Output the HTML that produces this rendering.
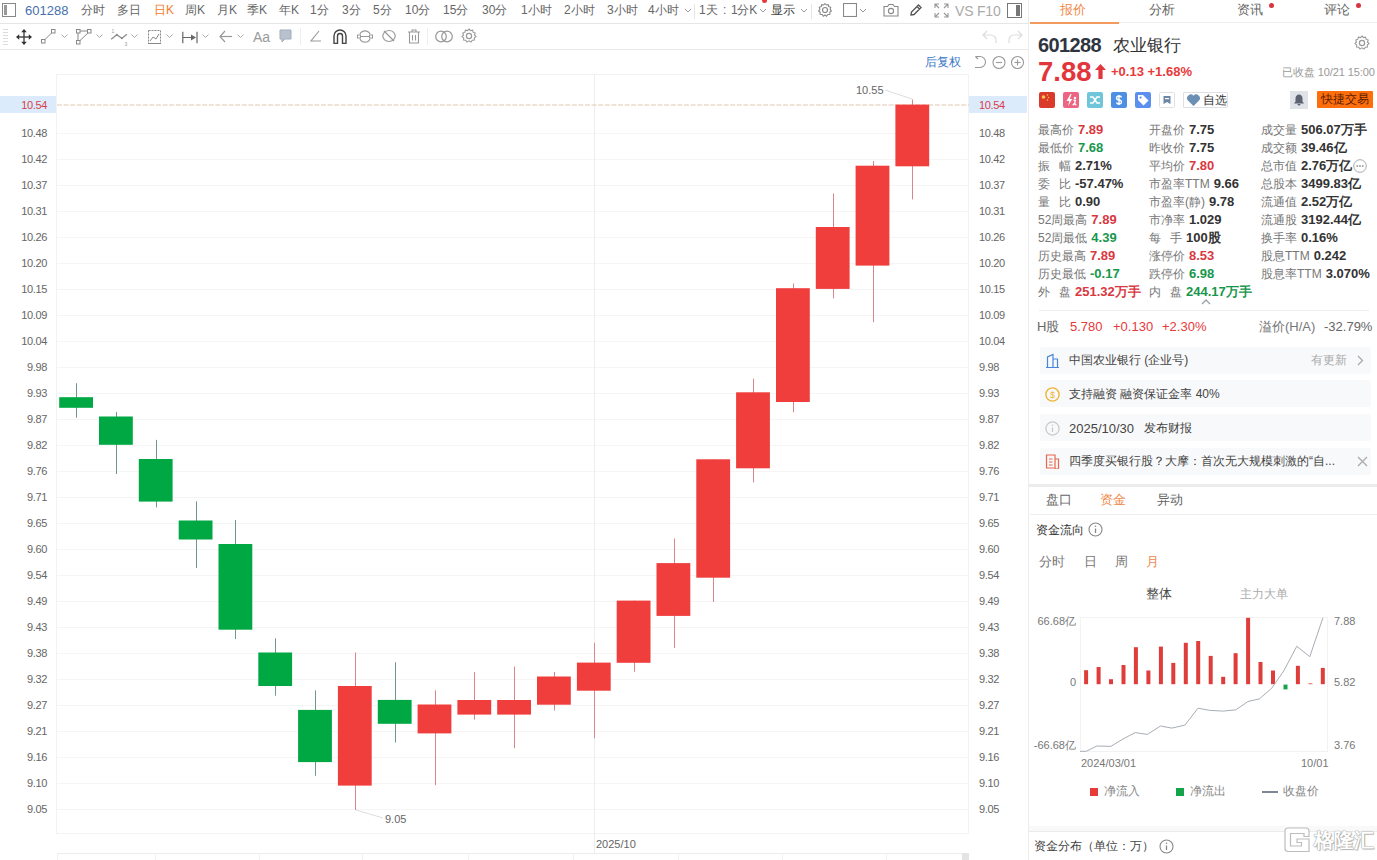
<!DOCTYPE html>
<html><head><meta charset="utf-8">
<style>
*{margin:0;padding:0;box-sizing:border-box}
html,body{width:1377px;height:860px;overflow:hidden;background:#fff;font-family:"Liberation Sans",sans-serif;color:#333}
.a{position:absolute;white-space:nowrap}
#left{position:absolute;left:0;top:0;width:1028px;height:860px}
#tb1{position:absolute;left:0;top:0;width:1028px;height:24px;border-bottom:1px solid #e6e6e6}
#tb2{position:absolute;left:0;top:24px;width:1028px;height:26px;border-bottom:1px solid #e9e9e9}
.t1{position:absolute;top:3px;font-size:12px;line-height:15px;color:#666}
.al{position:absolute;right:980px;width:50px;text-align:right;font-size:11px;line-height:14px;color:#666}
.al{left:0;width:47px;letter-spacing:-0.35px}
.ar{position:absolute;left:979px;font-size:11px;line-height:14px;color:#666;letter-spacing:-0.35px}
#rp{position:absolute;left:1028px;top:0;width:349px;height:860px;border-left:1px solid #ececec}
.tab{position:absolute;top:2px;font-size:13px;line-height:16px;color:#666}
.lb{position:absolute;font-size:12px;line-height:14px;color:#777}
.v{position:absolute;font-size:13px;line-height:14px;font-weight:bold;color:#333}
.r{color:#d9383f}.g{color:#17974c}
.box{position:absolute;left:1039px;width:331px;height:27px;background:#f8f9fa;border-radius:2px}
.bt{position:absolute;left:29px;top:6px;font-size:13px;line-height:15px;color:#444}
.d{color:#333}
</style></head><body>
<div id="left">
 <div id="tb1">
  <svg class="a" style="left:2px;top:3px" width="14" height="14" viewBox="0 0 14 14"><rect x="0.5" y="0.5" width="13" height="13" fill="none" stroke="#888"/><rect x="2" y="2" width="3" height="10" fill="#999"/></svg>
  <div class="t1" style="left:25px;color:#4670ad;font-size:13px">601288</div>
  <div class="t1" style="left:81px">分时</div>
  <div class="t1" style="left:117px">多日</div>
  <div class="t1" style="left:154px;color:#f57c2a">日K</div>
  <div class="t1" style="left:185px">周K</div>
  <div class="t1" style="left:217px">月K</div>
  <div class="t1" style="left:247px">季K</div>
  <div class="t1" style="left:279px">年K</div>
  <div class="t1" style="left:310px">1分</div>
  <div class="t1" style="left:342px">3分</div>
  <div class="t1" style="left:373px">5分</div>
  <div class="t1" style="left:405px">10分</div>
  <div class="t1" style="left:443px">15分</div>
  <div class="t1" style="left:482px">30分</div>
  <div class="t1" style="left:521px">1小时</div>
  <div class="t1" style="left:564px">2小时</div>
  <div class="t1" style="left:607px">3小时</div>
  <div class="t1" style="left:648px">4小时</div>
  <svg class="a" style="left:684px;top:8px" width="8" height="6"><polyline points="1,1 4,4 7,1" fill="none" stroke="#999" stroke-width="1"/></svg>
  <div class="a" style="left:694px;top:4px;width:1px;height:15px;background:#e5e5e5"></div>
  <div class="t1" style="left:699px;font-size:12px">1天</div><div class="t1" style="left:723px">:</div><div class="t1" style="left:731px;font-size:12px;letter-spacing:-0.2px">1分K</div>
  <svg class="a" style="left:759px;top:8px" width="8" height="6"><polyline points="1,1 4,4 7,1" fill="none" stroke="#999" stroke-width="1"/></svg>
  <div class="a" style="left:762px;top:-2px;width:5px;height:5px;border-radius:50%;background:#e8393b"></div>
  <div class="t1" style="left:771px;color:#444">显示</div>
  <svg class="a" style="left:800px;top:8px" width="8" height="6"><polyline points="1,1 4,4 7,1" fill="none" stroke="#999" stroke-width="1"/></svg>
  <div class="a" style="left:811px;top:4px;width:1px;height:15px;background:#e5e5e5"></div>
  <svg class="a" style="left:817px;top:2px" width="16" height="16" viewBox="0 0 16 16"><circle cx="8" cy="8" r="2.5" fill="none" stroke="#888" stroke-width="1.2"/><path d="M8 1.5 L9.3 3 L11.3 2.6 L11.8 4.6 L13.7 5.3 L13.1 7.3 L14.4 8.9 L12.8 10.2 L12.9 12.3 L10.8 12.5 L9.6 14.2 L8 13 L6.4 14.2 L5.2 12.5 L3.1 12.3 L3.2 10.2 L1.6 8.9 L2.9 7.3 L2.3 5.3 L4.2 4.6 L4.7 2.6 L6.7 3 Z" fill="none" stroke="#888" stroke-width="1.1"/></svg>
  <svg class="a" style="left:843px;top:3px" width="14" height="14"><rect x="0.5" y="0.5" width="13" height="13" fill="none" stroke="#888" stroke-width="1.1"/></svg>
  <svg class="a" style="left:859px;top:8px" width="8" height="6"><polyline points="1,1 4,4 7,1" fill="none" stroke="#999" stroke-width="1"/></svg>
  <svg class="a" style="left:883px;top:3px" width="16" height="14" viewBox="0 0 16 14"><path d="M1 3.5 H4.5 L6 1.5 H10 L11.5 3.5 H15 V13 H1 Z" fill="none" stroke="#888" stroke-width="1.1"/><circle cx="8" cy="8" r="2.6" fill="none" stroke="#888" stroke-width="1.1"/></svg>
  <svg class="a" style="left:909px;top:3px" width="14" height="14" viewBox="0 0 14 14"><path d="M2 12 L2.5 9 L9.5 2 L12 4.5 L5 11.5 Z M8 3.5 L10.5 6" fill="none" stroke="#555" stroke-width="1.4"/></svg>
  <svg class="a" style="left:934px;top:3px" width="15" height="15" viewBox="0 0 15 15"><path d="M1 5 V1 H5 M10 1 H14 V5 M14 10 V14 H10 M5 14 H1 V10 M1 1 L5 5 M14 1 L10 5 M14 14 L10 10 M1 14 L5 10" fill="none" stroke="#999" stroke-width="1.1"/></svg>
  <div class="a" style="left:955px;top:3px;font-size:14px;line-height:16px;color:#aaa;letter-spacing:-0.2px">VS F10</div>
  <svg class="a" style="left:1007px;top:3px" width="15" height="15" viewBox="0 0 15 15"><rect x="0.5" y="0.5" width="14" height="14" fill="none" stroke="#777" stroke-width="1"/><rect x="9" y="2" width="4" height="11" fill="#777"/></svg>
 </div>
 <div id="tb2">
    <svg class="a" style="left:3px;top:4px" width="6" height="17" viewBox="0 0 6 17"><g stroke="#ddd" stroke-width="1"><line x1="0" y1="1.5" x2="5" y2="1.5"/><line x1="0" y1="4.5" x2="5" y2="4.5"/><line x1="0" y1="7.5" x2="5" y2="7.5"/><line x1="0" y1="10.5" x2="5" y2="10.5"/><line x1="0" y1="13.5" x2="5" y2="13.5"/><line x1="0" y1="16.5" x2="5" y2="16.5"/></g></svg>
  <svg class="a" style="left:16px;top:4.5px" width="16" height="16" viewBox="0 0 16 16"><g fill="#333" stroke="#333"><line x1="8" y1="2" x2="8" y2="14" stroke-width="1.3"/><line x1="2" y1="8" x2="14" y2="8" stroke-width="1.3"/><path d="M8 0 L10.8 3.2 H5.2 Z M8 16 L10.8 12.8 H5.2 Z M0 8 L3.2 5.2 V10.8 Z M16 8 L12.8 5.2 V10.8 Z" stroke="none"/></g></svg>
  <svg class="a" style="left:41px;top:5px" width="15" height="15" viewBox="0 0 15 15"><rect x="0.5" y="10.5" width="3.5" height="3.5" fill="none" stroke="#888"/><rect x="10.5" y="0.5" width="3.5" height="3.5" fill="none" stroke="#888"/><line x1="4" y1="10.5" x2="10.5" y2="4" stroke="#888"/></svg>
  <svg class="a" style="left:61px;top:10px" width="7" height="5"><polyline points="0.5,0.5 3.5,3.5 6.5,0.5" fill="none" stroke="#aaa"/></svg>
  <svg class="a" style="left:76px;top:5px" width="16" height="16" viewBox="0 0 16 16"><rect x="0.5" y="0.5" width="3.5" height="3.5" fill="none" stroke="#888"/><rect x="11.5" y="0.5" width="3.5" height="3.5" fill="none" stroke="#888"/><rect x="0.5" y="11.5" width="3.5" height="3.5" fill="none" stroke="#888"/><line x1="4" y1="2" x2="11.5" y2="2" stroke="#888"/><line x1="2" y1="4" x2="2" y2="11.5" stroke="#888"/><line x1="4" y1="11.5" x2="12" y2="4" stroke="#888"/></svg>
  <svg class="a" style="left:96px;top:10px" width="7" height="5"><polyline points="0.5,0.5 3.5,3.5 6.5,0.5" fill="none" stroke="#aaa"/></svg>
  <svg class="a" style="left:110px;top:4px" width="18" height="18" viewBox="0 0 18 18"><polyline points="1.2,11.2 6.8,6.7 11.9,10.2 17,6.2" fill="none" stroke="#888" stroke-width="1.2"/><circle cx="6.8" cy="6.7" r="1" fill="#888"/><circle cx="11.9" cy="10.2" r="1" fill="#888"/><text x="1.5" y="5" font-size="5" fill="#999" font-family="Liberation Sans">1</text><text x="14.5" y="17.5" font-size="5" fill="#999" font-family="Liberation Sans">3</text></svg>
  <svg class="a" style="left:131px;top:10px" width="7" height="5"><polyline points="0.5,0.5 3.5,3.5 6.5,0.5" fill="none" stroke="#aaa"/></svg>
  <svg class="a" style="left:147px;top:4px" width="15" height="17" viewBox="0 0 15 17"><rect x="1.5" y="2.5" width="12" height="13" fill="none" stroke="#888" stroke-dasharray="2,1"/><polyline points="3,13 6,9 9,11 12,6" fill="none" stroke="#888"/><line x1="1" y1="15.5" x2="14" y2="15.5" stroke="#888"/></svg>
  <svg class="a" style="left:166px;top:10px" width="7" height="5"><polyline points="0.5,0.5 3.5,3.5 6.5,0.5" fill="none" stroke="#aaa"/></svg>
  <svg class="a" style="left:182px;top:7px" width="16" height="13" viewBox="0 0 16 15" preserveAspectRatio="none"><line x1="0.8" y1="1" x2="0.8" y2="14" stroke="#666" stroke-width="1.2"/><line x1="15" y1="1" x2="15" y2="14" stroke="#666" stroke-width="1.2"/><line x1="1" y1="7.5" x2="11" y2="7.5" stroke="#666" stroke-width="1.2"/><path d="M9 4 L14 7.5 L9 11 Z" fill="#666"/></svg>
  <svg class="a" style="left:202px;top:10px" width="7" height="5"><polyline points="0.5,0.5 3.5,3.5 6.5,0.5" fill="none" stroke="#aaa"/></svg>
  <svg class="a" style="left:219px;top:6px" width="13" height="13" viewBox="0 0 13 13"><polyline points="6,1 1,6.5 6,12" fill="none" stroke="#999" stroke-width="1.2"/><line x1="1" y1="6.5" x2="13" y2="6.5" stroke="#999" stroke-width="1.2"/></svg>
  <svg class="a" style="left:237px;top:10px" width="7" height="5"><polyline points="0.5,0.5 3.5,3.5 6.5,0.5" fill="none" stroke="#aaa"/></svg>
  <div class="a" style="left:253px;top:5px;font-size:14px;line-height:16px;color:#999">Aa</div>
  <svg class="a" style="left:279px;top:5px" width="13" height="15" viewBox="0 0 13 15"><path d="M1 1 H12 V10 H6 L3 13 V10 H1 Z" fill="#b8c2cf" stroke="#a3adba" stroke-width="1"/></svg>
  <div class="a" style="left:300px;top:4px;width:1px;height:17px;background:#eee"></div>
  <svg class="a" style="left:310px;top:6px" width="11" height="12" viewBox="0 0 11 12"><polyline points="9,1 1,11 11,11" fill="none" stroke="#999" stroke-width="1.1"/></svg>
  <svg class="a" style="left:333px;top:5px" width="14" height="15" viewBox="0 0 14 15"><path d="M1 14.5 V7 A6 6 0 0 1 13 7 V14.5 H9.5 V7 A2.5 2.5 0 0 0 4.5 7 V14.5 Z" fill="none" stroke="#444" stroke-width="1.4" stroke-linejoin="round"/></svg>
  <svg class="a" style="left:357px;top:5px" width="16" height="15" viewBox="0 0 16 15"><path d="M3 5 A5.5 5.5 0 0 1 13 5 M13 10 A5.5 5.5 0 0 1 3 10" fill="none" stroke="#999" stroke-width="1.2"/><rect x="0.5" y="6" width="3" height="3" fill="none" stroke="#999"/><rect x="12.5" y="6" width="3" height="3" fill="none" stroke="#999"/><line x1="3.5" y1="7.5" x2="12.5" y2="7.5" stroke="#999"/></svg>
  <svg class="a" style="left:382px;top:5px" width="14" height="14" viewBox="0 0 14 14"><ellipse cx="7" cy="7" rx="6.2" ry="5.5" fill="none" stroke="#999" stroke-width="1.2"/><line x1="2" y1="2" x2="12" y2="12" stroke="#999" stroke-width="1.2"/></svg>
  <svg class="a" style="left:408px;top:5px" width="12" height="15" viewBox="0 0 12 15"><path d="M0 3 H12 M4 3 V1 H8 V3 M1.5 3 V14 H10.5 V3 M4.5 6 V11.5 M7.5 6 V11.5" fill="none" stroke="#999" stroke-width="1.1"/></svg>
  <div class="a" style="left:427px;top:4px;width:1px;height:17px;background:#eee"></div>
  <svg class="a" style="left:435px;top:6px" width="18" height="13" viewBox="0 0 18 13"><circle cx="6" cy="6.5" r="5.3" fill="none" stroke="#999" stroke-width="1.2"/><circle cx="12" cy="6.5" r="5.3" fill="none" stroke="#999" stroke-width="1.2"/></svg>
  <svg class="a" style="left:461px;top:4px" width="16" height="16" viewBox="0 0 16 16"><circle cx="8" cy="8" r="2.6" fill="none" stroke="#999" stroke-width="1.2"/><path d="M8 1 L9.5 2.6 L11.6 2.1 L12.1 4.2 L14.2 5 L13.5 7 L15 8.6 L13.3 9.9 L13.4 12.1 L11.3 12.3 L10 14.1 L8 12.9 L6 14.1 L4.7 12.3 L2.6 12.1 L2.7 9.9 L1 8.6 L2.5 7 L1.8 5 L3.9 4.2 L4.4 2.1 L6.5 2.6 Z" fill="none" stroke="#999" stroke-width="1.1"/></svg>
  <svg class="a" style="left:982px;top:6px" width="15" height="13" viewBox="0 0 15 13"><path d="M5 1 L1 5 L5 9 M1 5 H9 A5 5 0 0 1 14 10 V13" fill="none" stroke="#ddd" stroke-width="1.2"/></svg>
  <svg class="a" style="left:1008px;top:6px" width="15" height="13" viewBox="0 0 15 13"><path d="M10 1 L14 5 L10 9 M14 5 H6 A5 5 0 0 0 1 10 V13" fill="none" stroke="#ddd" stroke-width="1.2"/></svg>

 </div>
 <!-- chart header -->
 <div class="a" style="left:925px;top:55px;font-size:12px;line-height:15px;color:#3b78c8">后复权</div>
 <svg class="a" style="left:972px;top:55px" width="54" height="15" viewBox="0 0 54 15">
  <path d="M3.5 1.5 H8 A5.5 5.5 0 0 1 8 12.5 H3" fill="none" stroke="#999" stroke-width="1.1"/><path d="M3.5 1.5 L6 4" stroke="#999" stroke-width="1.1"/>
  <circle cx="27" cy="7.5" r="6" fill="none" stroke="#999" stroke-width="1.1"/><line x1="24" y1="7.5" x2="30" y2="7.5" stroke="#999" stroke-width="1.1"/>
  <circle cx="45.5" cy="7.5" r="6" fill="none" stroke="#999" stroke-width="1.1"/><line x1="42.5" y1="7.5" x2="48.5" y2="7.5" stroke="#999" stroke-width="1.1"/><line x1="45.5" y1="4.5" x2="45.5" y2="10.5" stroke="#999" stroke-width="1.1"/>
 </svg>
 <!-- chart frame -->
 <div class="a" style="left:56px;top:74px;width:913px;height:760px;border:1px solid #f2f2f2"></div>
 <div class="a" style="left:57px;top:853px;width:912px;height:1px;background:#ececec"></div>
 <svg class="a" style="left:0;top:0" width="1028" height="860">
 <line x1="57" y1="133.5" x2="969" y2="133.5" stroke="#f5f5f5" stroke-width="1"/>
<line x1="57" y1="159.5" x2="969" y2="159.5" stroke="#f5f5f5" stroke-width="1"/>
<line x1="57" y1="185.5" x2="969" y2="185.5" stroke="#f5f5f5" stroke-width="1"/>
<line x1="57" y1="211.5" x2="969" y2="211.5" stroke="#f5f5f5" stroke-width="1"/>
<line x1="57" y1="237.5" x2="969" y2="237.5" stroke="#f5f5f5" stroke-width="1"/>
<line x1="57" y1="263.5" x2="969" y2="263.5" stroke="#f5f5f5" stroke-width="1"/>
<line x1="57" y1="289.5" x2="969" y2="289.5" stroke="#f5f5f5" stroke-width="1"/>
<line x1="57" y1="315.5" x2="969" y2="315.5" stroke="#f5f5f5" stroke-width="1"/>
<line x1="57" y1="341.5" x2="969" y2="341.5" stroke="#f5f5f5" stroke-width="1"/>
<line x1="57" y1="367.5" x2="969" y2="367.5" stroke="#f5f5f5" stroke-width="1"/>
<line x1="57" y1="393.5" x2="969" y2="393.5" stroke="#f5f5f5" stroke-width="1"/>
<line x1="57" y1="419.5" x2="969" y2="419.5" stroke="#f5f5f5" stroke-width="1"/>
<line x1="57" y1="445.5" x2="969" y2="445.5" stroke="#f5f5f5" stroke-width="1"/>
<line x1="57" y1="471.5" x2="969" y2="471.5" stroke="#f5f5f5" stroke-width="1"/>
<line x1="57" y1="497.5" x2="969" y2="497.5" stroke="#f5f5f5" stroke-width="1"/>
<line x1="57" y1="523.5" x2="969" y2="523.5" stroke="#f5f5f5" stroke-width="1"/>
<line x1="57" y1="549.5" x2="969" y2="549.5" stroke="#f5f5f5" stroke-width="1"/>
<line x1="57" y1="575.5" x2="969" y2="575.5" stroke="#f5f5f5" stroke-width="1"/>
<line x1="57" y1="601.5" x2="969" y2="601.5" stroke="#f5f5f5" stroke-width="1"/>
<line x1="57" y1="627.5" x2="969" y2="627.5" stroke="#f5f5f5" stroke-width="1"/>
<line x1="57" y1="653.5" x2="969" y2="653.5" stroke="#f5f5f5" stroke-width="1"/>
<line x1="57" y1="679.5" x2="969" y2="679.5" stroke="#f5f5f5" stroke-width="1"/>
<line x1="57" y1="705.5" x2="969" y2="705.5" stroke="#f5f5f5" stroke-width="1"/>
<line x1="57" y1="731.5" x2="969" y2="731.5" stroke="#f5f5f5" stroke-width="1"/>
<line x1="57" y1="757.5" x2="969" y2="757.5" stroke="#f5f5f5" stroke-width="1"/>
<line x1="57" y1="783.5" x2="969" y2="783.5" stroke="#f5f5f5" stroke-width="1"/>
<line x1="57" y1="809.5" x2="969" y2="809.5" stroke="#f5f5f5" stroke-width="1"/>
<line x1="594.5" y1="74" x2="594.5" y2="853" stroke="#ededed" stroke-width="1"/>
<line x1="57" y1="105" x2="969" y2="105" stroke="#e0c6ae" stroke-width="1" stroke-dasharray="5,1.6"/>
<line x1="76.5" y1="383.2" x2="76.5" y2="417.7" stroke="#6f9a86" stroke-width="1"/>
<rect x="59.2" y="397.2" width="33.8" height="10.6" fill="#00a843"/>
<line x1="116.5" y1="412.1" x2="116.5" y2="474.0" stroke="#6f9a86" stroke-width="1"/>
<rect x="99.0" y="416.5" width="33.8" height="28.3" fill="#00a843"/>
<line x1="156.5" y1="439.9" x2="156.5" y2="507.4" stroke="#6f9a86" stroke-width="1"/>
<rect x="138.8" y="459.0" width="33.8" height="42.6" fill="#00a843"/>
<line x1="196.5" y1="501.3" x2="196.5" y2="568.0" stroke="#6f9a86" stroke-width="1"/>
<rect x="178.7" y="520.5" width="33.8" height="19.0" fill="#00a843"/>
<line x1="235.5" y1="520.0" x2="235.5" y2="639.0" stroke="#6f9a86" stroke-width="1"/>
<rect x="218.5" y="544.0" width="33.8" height="85.7" fill="#00a843"/>
<line x1="275.5" y1="638.3" x2="275.5" y2="695.7" stroke="#6f9a86" stroke-width="1"/>
<rect x="258.3" y="652.5" width="33.8" height="33.5" fill="#00a843"/>
<line x1="315.5" y1="690.3" x2="315.5" y2="775.8" stroke="#6f9a86" stroke-width="1"/>
<rect x="298.1" y="709.9" width="33.8" height="52.2" fill="#00a843"/>
<line x1="355.5" y1="652.5" x2="355.5" y2="810.0" stroke="#d8868a" stroke-width="1"/>
<rect x="337.9" y="686.0" width="33.8" height="99.6" fill="#f03e3d"/>
<line x1="395.5" y1="662.2" x2="395.5" y2="742.6" stroke="#6f9a86" stroke-width="1"/>
<rect x="377.8" y="699.9" width="33.8" height="23.9" fill="#00a843"/>
<line x1="435.5" y1="690.3" x2="435.5" y2="785.2" stroke="#d8868a" stroke-width="1"/>
<rect x="417.6" y="704.5" width="33.8" height="28.9" fill="#f03e3d"/>
<line x1="474.5" y1="671.9" x2="474.5" y2="719.6" stroke="#d8868a" stroke-width="1"/>
<rect x="457.4" y="700.0" width="33.8" height="14.6" fill="#f03e3d"/>
<line x1="514.5" y1="666.6" x2="514.5" y2="748.2" stroke="#d8868a" stroke-width="1"/>
<rect x="497.2" y="700.0" width="33.8" height="14.6" fill="#f03e3d"/>
<line x1="554.5" y1="671.9" x2="554.5" y2="710.5" stroke="#d8868a" stroke-width="1"/>
<rect x="537.0" y="676.5" width="33.8" height="28.2" fill="#f03e3d"/>
<line x1="594.5" y1="642.9" x2="594.5" y2="738.4" stroke="#d8868a" stroke-width="1"/>
<rect x="576.9" y="662.6" width="33.8" height="28.1" fill="#f03e3d"/>
<line x1="634.5" y1="600.6" x2="634.5" y2="671.8" stroke="#d8868a" stroke-width="1"/>
<rect x="616.7" y="600.6" width="33.8" height="62.2" fill="#f03e3d"/>
<line x1="674.5" y1="538.5" x2="674.5" y2="648.0" stroke="#d8868a" stroke-width="1"/>
<rect x="656.5" y="563.1" width="33.8" height="52.8" fill="#f03e3d"/>
<line x1="713.5" y1="459.3" x2="713.5" y2="602.0" stroke="#d8868a" stroke-width="1"/>
<rect x="696.3" y="459.3" width="33.8" height="118.4" fill="#f03e3d"/>
<line x1="753.5" y1="378.7" x2="753.5" y2="482.4" stroke="#d8868a" stroke-width="1"/>
<rect x="736.1" y="392.3" width="33.8" height="76.0" fill="#f03e3d"/>
<line x1="793.5" y1="283.5" x2="793.5" y2="412.3" stroke="#d8868a" stroke-width="1"/>
<rect x="776.0" y="288.2" width="33.8" height="113.8" fill="#f03e3d"/>
<line x1="833.5" y1="193.4" x2="833.5" y2="298.3" stroke="#d8868a" stroke-width="1"/>
<rect x="815.8" y="227.0" width="33.8" height="61.9" fill="#f03e3d"/>
<line x1="873.5" y1="161.0" x2="873.5" y2="322.2" stroke="#d8868a" stroke-width="1"/>
<rect x="855.6" y="165.7" width="33.8" height="99.9" fill="#f03e3d"/>
<line x1="912.5" y1="99.5" x2="912.5" y2="199.4" stroke="#d8868a" stroke-width="1"/>
<rect x="895.4" y="104.6" width="33.8" height="61.7" fill="#f03e3d"/>
<polyline points="356,810 383,818" fill="none" stroke="#d4d4d4" stroke-width="0.8"/>
<polyline points="885,90 912,99" fill="none" stroke="#d4d4d4" stroke-width="0.8"/>
<text x="385" y="823" font-size="11" fill="#666">9.05</text>
<text x="856" y="94" font-size="11" fill="#666">10.55</text>
 </svg>
 <div class="a" style="left:0;top:96px;width:56px;height:17px;background:#dcebfb"></div>
 <div class="a" style="left:969px;top:96px;width:58px;height:17px;background:#dcebfb"></div>
 <div class="al" style="top:98px;color:#d8404a">10.54</div>
 <div class="ar" style="top:98px;color:#d8404a">10.54</div>
 <div class="al" style="top:126px">10.48</div>
<div class="al" style="top:152px">10.42</div>
<div class="al" style="top:178px">10.37</div>
<div class="al" style="top:204px">10.31</div>
<div class="al" style="top:230px">10.26</div>
<div class="al" style="top:256px">10.20</div>
<div class="al" style="top:282px">10.15</div>
<div class="al" style="top:308px">10.09</div>
<div class="al" style="top:334px">10.04</div>
<div class="al" style="top:360px">9.98</div>
<div class="al" style="top:386px">9.93</div>
<div class="al" style="top:412px">9.87</div>
<div class="al" style="top:438px">9.82</div>
<div class="al" style="top:464px">9.76</div>
<div class="al" style="top:490px">9.71</div>
<div class="al" style="top:516px">9.65</div>
<div class="al" style="top:542px">9.60</div>
<div class="al" style="top:568px">9.54</div>
<div class="al" style="top:594px">9.49</div>
<div class="al" style="top:620px">9.43</div>
<div class="al" style="top:646px">9.38</div>
<div class="al" style="top:672px">9.32</div>
<div class="al" style="top:698px">9.27</div>
<div class="al" style="top:724px">9.21</div>
<div class="al" style="top:750px">9.16</div>
<div class="al" style="top:776px">9.10</div>
<div class="al" style="top:802px">9.05</div>
 <div class="ar" style="top:126px">10.48</div>
<div class="ar" style="top:152px">10.42</div>
<div class="ar" style="top:178px">10.37</div>
<div class="ar" style="top:204px">10.31</div>
<div class="ar" style="top:230px">10.26</div>
<div class="ar" style="top:256px">10.20</div>
<div class="ar" style="top:282px">10.15</div>
<div class="ar" style="top:308px">10.09</div>
<div class="ar" style="top:334px">10.04</div>
<div class="ar" style="top:360px">9.98</div>
<div class="ar" style="top:386px">9.93</div>
<div class="ar" style="top:412px">9.87</div>
<div class="ar" style="top:438px">9.82</div>
<div class="ar" style="top:464px">9.76</div>
<div class="ar" style="top:490px">9.71</div>
<div class="ar" style="top:516px">9.65</div>
<div class="ar" style="top:542px">9.60</div>
<div class="ar" style="top:568px">9.54</div>
<div class="ar" style="top:594px">9.49</div>
<div class="ar" style="top:620px">9.43</div>
<div class="ar" style="top:646px">9.38</div>
<div class="ar" style="top:672px">9.32</div>
<div class="ar" style="top:698px">9.27</div>
<div class="ar" style="top:724px">9.21</div>
<div class="ar" style="top:750px">9.16</div>
<div class="ar" style="top:776px">9.10</div>
<div class="ar" style="top:802px">9.05</div>
<div class="a" style="left:57px;top:853px;width:1px;height:7px;background:#f1f1f1"></div><div class="a" style="left:155px;top:853px;width:1px;height:7px;background:#f1f1f1"></div><div class="a" style="left:259px;top:853px;width:1px;height:7px;background:#f1f1f1"></div><div class="a" style="left:362px;top:853px;width:1px;height:7px;background:#f1f1f1"></div><div class="a" style="left:468px;top:853px;width:1px;height:7px;background:#f1f1f1"></div><div class="a" style="left:573px;top:853px;width:1px;height:7px;background:#f1f1f1"></div><div class="a" style="left:678px;top:853px;width:1px;height:7px;background:#f1f1f1"></div><div class="a" style="left:782px;top:853px;width:1px;height:7px;background:#f1f1f1"></div><div class="a" style="left:886px;top:853px;width:1px;height:7px;background:#f1f1f1"></div>
 <div class="a" style="left:962px;top:853px;width:7px;height:7px;background:#e4e4e4"></div>
 <div class="a" style="left:596px;top:837px;font-size:11px;line-height:14px;color:#666">2025/10</div>
</div>
<div id="rp">
  <div class="tab" style="left:31px;color:#f08a4b">报价</div>
 <div class="tab" style="left:120px">分析</div>
 <div class="tab" style="left:208px">资讯</div>
 <div class="tab" style="left:295px">评论</div>
 <div class="a" style="left:240px;top:3px;width:5px;height:5px;border-radius:50%;background:#d9333f"></div>
 <div class="a" style="left:327px;top:3px;width:5px;height:5px;border-radius:50%;background:#d9333f"></div>
 <div class="a" style="left:1px;top:22px;width:348px;height:1px;background:#eeeeee"></div>
 <div class="a" style="left:1px;top:22px;width:89px;height:2px;background:#f39a5e"></div>
 <div class="a" style="left:9px;top:34px;font-size:20px;line-height:22px;font-weight:bold;color:#2e3541;letter-spacing:-0.6px">601288</div>
 <div class="a" style="left:84px;top:35px;font-size:17px;line-height:21px;color:#333">农业银行</div>
 <svg class="a" style="left:325px;top:35px" width="16" height="16" viewBox="0 0 16 16"><circle cx="8" cy="8" r="2.6" fill="none" stroke="#999" stroke-width="1.2"/><path d="M8 1 L9.5 2.6 L11.6 2.1 L12.1 4.2 L14.2 5 L13.5 7 L15 8.6 L13.3 9.9 L13.4 12.1 L11.3 12.3 L10 14.1 L8 12.9 L6 14.1 L4.7 12.3 L2.6 12.1 L2.7 9.9 L1 8.6 L2.5 7 L1.8 5 L3.9 4.2 L4.4 2.1 L6.5 2.6 Z" fill="none" stroke="#999" stroke-width="1.1"/></svg>
 <div class="a" style="left:9px;top:57px;font-size:27.5px;line-height:30px;font-weight:bold;color:#e2363d">7.88</div>
 <svg class="a" style="left:66px;top:64px" width="11" height="15" viewBox="0 0 11 15"><path d="M5.5 0 L11 6 H7.6 V15 H3.4 V6 H0 Z" fill="#e2363d"/></svg>
 <div class="a" style="left:82px;top:64px;font-size:13px;line-height:15px;font-weight:bold;color:#e8393b">+0.13 +1.68%</div>
 <div class="a" style="left:253px;top:65px;font-size:11px;line-height:14px;color:#999;letter-spacing:-0.1px">已收盘 10/21 15:00</div>
 <!-- icons -->
 <svg class="a" style="left:10px;top:92px" width="16" height="16"><rect width="16" height="16" rx="2" fill="#da3a2a"/><circle cx="4.5" cy="5" r="1.8" fill="#f7c948"/><circle cx="8.5" cy="3" r="0.7" fill="#f7c948"/><circle cx="9.5" cy="5.5" r="0.7" fill="#f7c948"/><circle cx="8.5" cy="8" r="0.7" fill="#f7c948"/></svg>
 <svg class="a" style="left:34px;top:92px" width="16" height="16"><rect width="16" height="16" rx="2" fill="#ea6682"/><path d="M7.5 2 L3.5 9 H6.3 L5 14 L9.3 7 H6.8 L8.6 2 Z" fill="#fff"/><path d="M10.5 8 L12.5 8.5 L11.5 11.3 L13.2 13.2 M11.5 11.3 L9.8 13.2" stroke="#fff" stroke-width="1.3" fill="none"/><circle cx="12" cy="6" r="1.2" fill="#fff"/></svg>
 <svg class="a" style="left:58px;top:92px" width="16" height="16"><rect width="16" height="16" rx="2" fill="#6fc6d8"/><path d="M3 5 H6 L10 11 H13 M3 11 H6 L10 5 H13" fill="none" stroke="#fff" stroke-width="1.5"/></svg>
 <svg class="a" style="left:82px;top:92px" width="16" height="16"><rect width="16" height="16" rx="2" fill="#4d8fe3"/><path d="M10.5 5.5 A2.5 2 0 1 0 8 8 A2.5 2 0 1 1 5.5 10.5 M8 3 V13" fill="none" stroke="#fff" stroke-width="1.4"/></svg>
 <svg class="a" style="left:106px;top:92px" width="16" height="16"><rect width="16" height="16" rx="2" fill="#5b90ef"/><path d="M3 3 H8 L13.5 8.5 L8.5 13.5 L3 8 Z" fill="#fff"/><circle cx="5.6" cy="5.6" r="1.1" fill="#5b90ef"/></svg>
 <svg class="a" style="left:130px;top:92px" width="16" height="16"><rect x="0.5" y="0.5" width="15" height="15" rx="1" fill="#fff" stroke="#dde1e6"/><path d="M4.5 4 H11.5 V12 L8 10 L4.5 12 Z" fill="#6b86a6"/><rect x="6" y="6" width="4" height="1.2" fill="#fff"/></svg>
 <div class="a" style="left:154px;top:92px;width:45px;height:16px;border:1px solid #dde1e6;border-radius:1px"></div>
 <svg class="a" style="left:158px;top:94px" width="13" height="12" viewBox="0 0 13 12"><path d="M6.5 12 L1 6.5 A3.2 3.2 0 0 1 6.5 1.8 A3.2 3.2 0 0 1 12 6.5 Z" fill="#6b8fb5"/></svg>
 <div class="a" style="left:174px;top:93px;font-size:12px;line-height:14px;color:#333">自选</div>
 <svg class="a" style="left:261px;top:91px" width="18" height="18"><rect width="18" height="18" fill="#dfe2e7"/><path d="M9 3.5 A3.5 3.8 0 0 1 12.5 7.5 V10.5 L14 12.5 H4 L5.5 10.5 V7.5 A3.5 3.8 0 0 1 9 3.5 Z M7.5 13 H10.5 A1.5 1.5 0 0 1 7.5 13 Z" fill="#5c6370"/></svg>
 <div class="a" style="left:288px;top:91px;width:56px;height:17px;background:#ff6e0c;border-radius:1px"></div>
 <div class="a" style="left:292px;top:92px;font-size:12px;line-height:15px;color:#5a2200">快捷交易</div>
 <!-- stats -->
 <div class="a" style="left:9px;top:123px;font-size:12px;line-height:14px;color:#777">最高价<span style="margin-left:4px;font-size:13px;font-weight:bold" class="r">7.89</span></div>
<div class="a" style="left:9px;top:141px;font-size:12px;line-height:14px;color:#777">最低价<span style="margin-left:4px;font-size:13px;font-weight:bold" class="g">7.68</span></div>
<div class="a" style="left:9px;top:159px;font-size:12px;line-height:14px;color:#777">振<span style="display:inline-block;width:9px"></span>幅<span style="margin-left:4px;font-size:13px;font-weight:bold" class="d">2.71%</span></div>
<div class="a" style="left:9px;top:177px;font-size:12px;line-height:14px;color:#777">委<span style="display:inline-block;width:9px"></span>比<span style="margin-left:4px;font-size:13px;font-weight:bold" class="d">-57.47%</span></div>
<div class="a" style="left:9px;top:195px;font-size:12px;line-height:14px;color:#777">量<span style="display:inline-block;width:9px"></span>比<span style="margin-left:4px;font-size:13px;font-weight:bold" class="d">0.90</span></div>
<div class="a" style="left:9px;top:213px;font-size:12px;line-height:14px;color:#777">52周最高<span style="margin-left:4px;font-size:13px;font-weight:bold" class="r">7.89</span></div>
<div class="a" style="left:9px;top:231px;font-size:12px;line-height:14px;color:#777">52周最低<span style="margin-left:4px;font-size:13px;font-weight:bold" class="g">4.39</span></div>
<div class="a" style="left:9px;top:249px;font-size:12px;line-height:14px;color:#777">历史最高<span style="margin-left:4px;font-size:13px;font-weight:bold" class="r">7.89</span></div>
<div class="a" style="left:9px;top:267px;font-size:12px;line-height:14px;color:#777">历史最低<span style="margin-left:4px;font-size:13px;font-weight:bold" class="g">-0.17</span></div>
<div class="a" style="left:9px;top:285px;font-size:12px;line-height:14px;color:#777">外<span style="display:inline-block;width:9px"></span>盘<span style="margin-left:4px;font-size:13px;font-weight:bold" class="r">251.32万手</span></div>
<div class="a" style="left:120px;top:123px;font-size:12px;line-height:14px;color:#777">开盘价<span style="margin-left:4px;font-size:13px;font-weight:bold" class="d">7.75</span></div>
<div class="a" style="left:120px;top:141px;font-size:12px;line-height:14px;color:#777">昨收价<span style="margin-left:4px;font-size:13px;font-weight:bold" class="d">7.75</span></div>
<div class="a" style="left:120px;top:159px;font-size:12px;line-height:14px;color:#777">平均价<span style="margin-left:4px;font-size:13px;font-weight:bold" class="r">7.80</span></div>
<div class="a" style="left:120px;top:177px;font-size:12px;line-height:14px;color:#777">市盈率TTM<span style="margin-left:4px;font-size:13px;font-weight:bold" class="d">9.66</span></div>
<div class="a" style="left:120px;top:195px;font-size:12px;line-height:14px;color:#777">市盈率(静)<span style="margin-left:4px;font-size:13px;font-weight:bold" class="d">9.78</span></div>
<div class="a" style="left:120px;top:213px;font-size:12px;line-height:14px;color:#777">市净率<span style="margin-left:4px;font-size:13px;font-weight:bold" class="d">1.029</span></div>
<div class="a" style="left:120px;top:231px;font-size:12px;line-height:14px;color:#777">每<span style="display:inline-block;width:9px"></span>手<span style="margin-left:4px;font-size:13px;font-weight:bold" class="d">100股</span></div>
<div class="a" style="left:120px;top:249px;font-size:12px;line-height:14px;color:#777">涨停价<span style="margin-left:4px;font-size:13px;font-weight:bold" class="r">8.53</span></div>
<div class="a" style="left:120px;top:267px;font-size:12px;line-height:14px;color:#777">跌停价<span style="margin-left:4px;font-size:13px;font-weight:bold" class="g">6.98</span></div>
<div class="a" style="left:120px;top:285px;font-size:12px;line-height:14px;color:#777">内<span style="display:inline-block;width:9px"></span>盘<span style="margin-left:4px;font-size:13px;font-weight:bold" class="g">244.17万手</span></div>
<div class="a" style="left:232px;top:123px;font-size:12px;line-height:14px;color:#777">成交量<span style="margin-left:4px;font-size:13px;font-weight:bold" class="d">506.07万手</span></div>
<div class="a" style="left:232px;top:141px;font-size:12px;line-height:14px;color:#777">成交额<span style="margin-left:4px;font-size:13px;font-weight:bold" class="d">39.46亿</span></div>
<div class="a" style="left:232px;top:159px;font-size:12px;line-height:14px;color:#777">总市值<span style="margin-left:4px;font-size:13px;font-weight:bold" class="d">2.76万亿</span></div>
<div class="a" style="left:232px;top:177px;font-size:12px;line-height:14px;color:#777">总股本<span style="margin-left:4px;font-size:13px;font-weight:bold" class="d">3499.83亿</span></div>
<div class="a" style="left:232px;top:195px;font-size:12px;line-height:14px;color:#777">流通值<span style="margin-left:4px;font-size:13px;font-weight:bold" class="d">2.52万亿</span></div>
<div class="a" style="left:232px;top:213px;font-size:12px;line-height:14px;color:#777">流通股<span style="margin-left:4px;font-size:13px;font-weight:bold" class="d">3192.44亿</span></div>
<div class="a" style="left:232px;top:231px;font-size:12px;line-height:14px;color:#777">换手率<span style="margin-left:4px;font-size:13px;font-weight:bold" class="d">0.16%</span></div>
<div class="a" style="left:232px;top:249px;font-size:12px;line-height:14px;color:#777">股息TTM<span style="margin-left:4px;font-size:13px;font-weight:bold" class="d">0.242</span></div>
<div class="a" style="left:232px;top:267px;font-size:12px;line-height:14px;color:#777">股息率TTM<span style="margin-left:4px;font-size:13px;font-weight:bold" class="d">3.070%</span></div>
<svg class="a" style="left:324px;top:159px" width="14" height="14" viewBox="0 0 14 14"><circle cx="7" cy="7" r="6.3" fill="none" stroke="#aaa" stroke-width="1"/><circle cx="4.3" cy="7" r="0.9" fill="#999"/><circle cx="7" cy="7" r="0.9" fill="#999"/><circle cx="9.7" cy="7" r="0.9" fill="#999"/></svg>
 <svg class="a" style="left:172px;top:299px" width="10" height="6"><polyline points="1,5 5,1 9,5" fill="none" stroke="#99a0aa" stroke-width="1.3"/></svg>
 <div class="a" style="left:10px;top:310px;width:330px;height:1px;background:#eeeeee"></div>
 <div class="a" style="left:8px;top:319px;font-size:13px;line-height:15px;color:#666">H股</div>
 <div class="a" style="left:41px;top:319px;font-size:13px;line-height:15px;color:#e8393b">5.780</div>
 <div class="a" style="left:84px;top:319px;font-size:13px;line-height:15px;color:#e8393b">+0.130</div>
 <div class="a" style="left:133px;top:319px;font-size:13px;line-height:15px;color:#e8393b">+2.30%</div>
 <div class="a" style="left:230px;top:319px;font-size:13px;line-height:15px;color:#777">溢价(H/A)</div>
 <div class="a" style="left:295px;top:319px;font-size:13px;line-height:15px;color:#666">-32.79%</div>
 <!-- boxes -->
 <div class="box" style="left:11px;top:347px"></div>
 <div class="box" style="left:11px;top:380px"></div>
 <div class="box" style="left:11px;top:414px"></div>
 <div class="box" style="left:11px;top:448px"></div>
 <svg class="a" style="left:16px;top:353px" width="15" height="15" viewBox="0 0 15 15"><path d="M1 14.5 H14 M2.5 14.5 V4 L8 1.5 V14.5 M8 6 H12.5 V14.5" fill="none" stroke="#4a86d8" stroke-width="1.2"/></svg>
 <div class="a" style="left:40px;top:353px;font-size:12px;line-height:15px;color:#444">中国农业银行 (企业号)</div>
 <div class="a" style="left:282px;top:353px;font-size:12px;line-height:15px;color:#aaa">有更新</div>
 <svg class="a" style="left:328px;top:355px" width="7" height="11"><polyline points="1,1 5.5,5.5 1,10" fill="none" stroke="#aaa" stroke-width="1.3"/></svg>
 <svg class="a" style="left:16px;top:387px" width="15" height="15" viewBox="0 0 15 15"><circle cx="7.5" cy="7.5" r="6.6" fill="none" stroke="#f0b437" stroke-width="1.4"/><text x="7.5" y="11" text-anchor="middle" font-size="9" fill="#f0b437" font-family="Liberation Sans">$</text></svg>
 <div class="a" style="left:40px;top:387px;font-size:12px;line-height:15px;color:#444">支持融资 融资保证金率 40%</div>
 <svg class="a" style="left:16px;top:421px" width="15" height="15" viewBox="0 0 15 15"><circle cx="7.5" cy="7.5" r="6.6" fill="none" stroke="#c8c8c8" stroke-width="1.2"/><line x1="7.5" y1="6.5" x2="7.5" y2="11" stroke="#c8c8c8" stroke-width="1.3"/><circle cx="7.5" cy="4.3" r="0.8" fill="#c8c8c8"/></svg>
 <div class="a" style="left:40px;top:421px;font-size:13px;line-height:15px;color:#444">2025/10/30</div><div class="a" style="left:115px;top:421px;font-size:12px;line-height:15px;color:#444">发布财报</div>
 <svg class="a" style="left:16px;top:454px" width="15" height="15" viewBox="0 0 15 15"><path d="M1.5 1 H10 V14 H1.5 Z M10 5 H13.5 V12.5 A1.5 1.5 0 0 1 10 14" fill="none" stroke="#e8654f" stroke-width="1.2"/><path d="M4 5 H7.5 M4 8 H7.5 M4 11 H7.5" stroke="#e8654f" stroke-width="1.1"/></svg>
 <div class="a" style="left:40px;top:454px;font-size:12px;line-height:15px;color:#444">四季度买银行股？大摩：首次无大规模刺激的“自...</div>
 <svg class="a" style="left:328px;top:456px" width="11" height="11"><path d="M1 1 L10 10 M10 1 L1 10" stroke="#aaa" stroke-width="1.3"/></svg>
 <!-- lower section -->
 <div class="a" style="left:0;top:484px;width:349px;height:3px;background:#ececec"></div>
 <div class="a" style="left:17px;top:493px;font-size:12.5px;line-height:15px;color:#666">盘口</div>
 <div class="a" style="left:71px;top:493px;font-size:12.5px;line-height:15px;color:#f08a4b">资金</div>
 <div class="a" style="left:128px;top:493px;font-size:12.5px;line-height:15px;color:#666">异动</div>
 <div class="a" style="left:1px;top:514px;width:348px;height:1px;background:#eeeeee"></div>
 <div class="a" style="left:7px;top:523px;font-size:12px;line-height:15px;color:#333">资金流向</div>
 <svg class="a" style="left:59px;top:522px" width="15" height="15" viewBox="0 0 15 15"><circle cx="7.5" cy="7.5" r="6.5" fill="none" stroke="#888" stroke-width="1.1"/><line x1="7.5" y1="6.5" x2="7.5" y2="11" stroke="#888" stroke-width="1.3"/><circle cx="7.5" cy="4.3" r="0.8" fill="#888"/></svg>
 <div class="a" style="left:10px;top:555px;font-size:12.5px;line-height:15px;color:#777">分时</div>
 <div class="a" style="left:55px;top:555px;font-size:12.5px;line-height:15px;color:#777">日</div>
 <div class="a" style="left:86px;top:555px;font-size:12.5px;line-height:15px;color:#777">周</div>
 <div class="a" style="left:117px;top:555px;font-size:12.5px;line-height:15px;color:#f08a4b">月</div>
 <div class="a" style="left:117px;top:587px;font-size:12.5px;line-height:15px;color:#444">整体</div>
 <div class="a" style="left:211px;top:587px;font-size:12px;line-height:15px;color:#aaa">主力大单</div>
 <svg class="a" style="left:0;top:0" width="349" height="860"><g transform="translate(-1029,0)">
<rect x="1080.5" y="617.5" width="247" height="134" fill="none" stroke="#f2f2f2"/>
<rect x="1084.1" y="670.2" width="4" height="14.0" fill="#de3d3a"/>
<rect x="1096.6" y="667" width="4" height="17.2" fill="#de3d3a"/>
<rect x="1109.0" y="679.2" width="4" height="5.0" fill="#de3d3a"/>
<rect x="1121.5" y="665" width="4" height="19.2" fill="#de3d3a"/>
<rect x="1133.9" y="647.2" width="4" height="37.0" fill="#de3d3a"/>
<rect x="1146.4" y="670.5" width="4" height="13.7" fill="#de3d3a"/>
<rect x="1158.9" y="646.6" width="4" height="37.6" fill="#de3d3a"/>
<rect x="1171.3" y="662.9" width="4" height="21.3" fill="#de3d3a"/>
<rect x="1183.8" y="642.8" width="4" height="41.4" fill="#de3d3a"/>
<rect x="1196.2" y="641" width="4" height="43.2" fill="#de3d3a"/>
<rect x="1208.7" y="655.9" width="4" height="28.3" fill="#de3d3a"/>
<rect x="1221.2" y="676.8" width="4" height="7.4" fill="#de3d3a"/>
<rect x="1233.6" y="653.2" width="4" height="31.0" fill="#de3d3a"/>
<rect x="1246.1" y="617.8" width="4" height="66.4" fill="#de3d3a"/>
<rect x="1258.5" y="662" width="4" height="22.2" fill="#de3d3a"/>
<rect x="1271.0" y="670.5" width="4" height="13.7" fill="#de3d3a"/>
<rect x="1283.5" y="684.6" width="4" height="4.8" fill="#16a34a"/>
<rect x="1295.9" y="665.8" width="4" height="18.4" fill="#de3d3a"/>
<rect x="1308.4" y="683.4" width="4" height="0.8" fill="#de3d3a"/>
<rect x="1320.8" y="667.9" width="4" height="16.3" fill="#de3d3a"/>
<polyline points="1080,751.3 1086.3,751.3 1096.8,746 1110.8,746.4 1123,739 1135.2,732.6 1147.4,734.4 1160.5,726 1171.8,728.1 1184.9,725.1 1198,708.2 1209.3,710.3 1222.7,711.1 1235.7,709.9 1248,701.5 1259.3,698.9 1271.5,688.5 1283.7,671 1296.8,646.3 1309.8,656.7 1322.9,617.8" fill="none" stroke="#a8adb5" stroke-width="1" stroke-linejoin="round"/>
</g></svg>
<div class="a" style="left:0;width:47px;text-align:right;top:614px;font-size:11px;line-height:14px;color:#777">66.68亿</div>
<div class="a" style="left:0;width:47px;text-align:right;top:675px;font-size:11px;line-height:14px;color:#777">0</div>
<div class="a" style="left:0;width:47px;text-align:right;top:738px;font-size:11px;line-height:14px;color:#777">-66.68亿</div>
<div class="a" style="left:305px;top:614px;font-size:11px;line-height:14px;color:#777">7.88</div>
<div class="a" style="left:305px;top:675px;font-size:11px;line-height:14px;color:#777">5.82</div>
<div class="a" style="left:305px;top:738px;font-size:11px;line-height:14px;color:#777">3.76</div>
<div class="a" style="left:52px;top:756px;font-size:11px;line-height:14px;color:#777">2024/03/01</div>
<div class="a" style="left:272px;top:756px;font-size:11px;line-height:14px;color:#777">10/01</div>
 <svg class="a" style="left:61px;top:788px" width="8" height="8"><rect width="8" height="8" fill="#e8393b"/></svg>
 <div class="a" style="left:75px;top:784px;font-size:12px;line-height:15px;color:#888">净流入</div>
 <svg class="a" style="left:147px;top:788px" width="8" height="8"><rect width="8" height="8" fill="#16a34a"/></svg>
 <div class="a" style="left:161px;top:784px;font-size:12px;line-height:15px;color:#888">净流出</div>
 <div class="a" style="left:233px;top:791px;width:16px;height:1.5px;background:#7d8796"></div>
 <div class="a" style="left:254px;top:784px;font-size:12px;line-height:15px;color:#888">收盘价</div>
 <div class="a" style="left:0;top:826px;width:349px;height:5px;background:#f9f9f9"></div><div class="a" style="left:0;top:831px;width:349px;height:1px;background:#ebebeb"></div>
 <div class="a" style="left:5px;top:839px;font-size:12px;line-height:15px;color:#444">资金分布（单位：万）</div>
 <svg class="a" style="left:130px;top:839px" width="15" height="15" viewBox="0 0 15 15"><circle cx="7.5" cy="7.5" r="6.5" fill="none" stroke="#888" stroke-width="1.1"/><line x1="7.5" y1="6.5" x2="7.5" y2="11" stroke="#888" stroke-width="1.3"/><circle cx="7.5" cy="4.3" r="0.8" fill="#888"/></svg>
 <svg class="a" style="left:0;top:0" width="349" height="860"><g transform="translate(-1029,0)"><path d="M1288,828 H1306 Q1309,828 1309,831 V836.5 H1304 V833.5 H1290.5 V846 H1301.5 V842.5 H1297 V839 H1309 V851.5 H1288 Q1285,851.5 1285,848.5 V831 Q1285,828 1288,828 Z" fill="#fff" stroke="#bdbdbd" stroke-width="1.2"/></g></svg>
 <div class="a" style="left:285px;top:828px;font-size:19.5px;line-height:25px;font-weight:bold;color:#fff;text-shadow:0 0 1px #999,0 0 1px #999,1px 1px 1px #bbb">格隆汇</div>

</div>
</body></html>
